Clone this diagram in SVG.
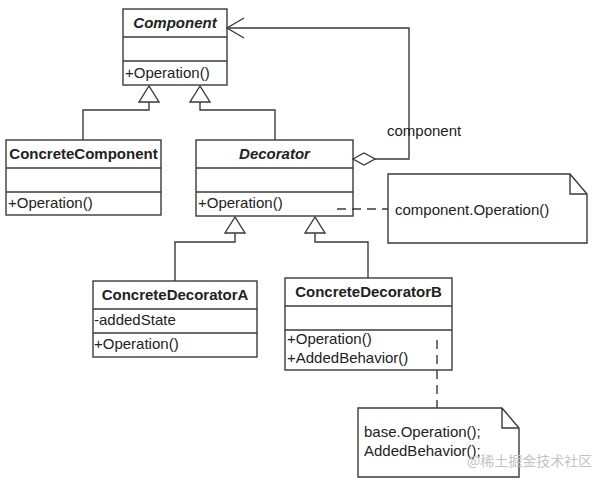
<svg xmlns="http://www.w3.org/2000/svg" width="592" height="482" viewBox="0 0 592 482">
<style>
.box{fill:#fff;stroke:#3a3a3a;stroke-width:1.4}
.ln{fill:none;stroke:#3a3a3a;stroke-width:1.4}
.dash{fill:none;stroke:#3a3a3a;stroke-width:1.4;stroke-dasharray:9 6}
.tri{fill:#fff;stroke:#3a3a3a;stroke-width:1.4}
text{font-family:"Liberation Sans",Arial,sans-serif;font-size:15px;fill:#222}
.t{font-weight:bold}
.ti{font-weight:bold;font-style:italic}
.wm{font-family:"Noto Sans CJK SC","Liberation Sans",sans-serif;font-size:14px;fill:#c4c4c4}
</style>
<rect width="592" height="482" fill="#fff"/>
<g id="Component">
  <rect class="box" x="123" y="9" width="104" height="76"/>
  <line class="ln" x1="123" y1="37" x2="227" y2="37"/>
  <line class="ln" x1="123" y1="61" x2="227" y2="61"/>
  <text class="ti" x="175" y="28" text-anchor="middle">Component</text>
  <text x="125" y="78">+Operation()</text>
</g>
<g id="ConcreteComponent">
  <rect class="box" x="6" y="140" width="155" height="75"/>
  <line class="ln" x1="6" y1="168" x2="161" y2="168"/>
  <line class="ln" x1="6" y1="192" x2="161" y2="192"/>
  <text class="t" x="83.5" y="159" text-anchor="middle">ConcreteComponent</text>
  <text x="8" y="208">+Operation()</text>
</g>
<g id="Decorator">
  <rect class="box" x="196" y="140" width="157" height="76"/>
  <line class="ln" x1="196" y1="168" x2="353" y2="168"/>
  <line class="ln" x1="196" y1="192" x2="353" y2="192"/>
  <text class="ti" x="274.5" y="159" text-anchor="middle">Decorator</text>
  <text x="198" y="208">+Operation()</text>
</g>
<g id="Note1">
  <polygon class="box" points="388,174 570,174 587,194 587,243 388,243"/>
  <polyline class="ln" points="570,174 570,194 587,194"/>
  <text x="395" y="215">component.Operation()</text>
</g>
<g id="ConcreteDecoratorA">
  <rect class="box" x="93" y="281" width="164" height="76"/>
  <line class="ln" x1="93" y1="309" x2="257" y2="309"/>
  <line class="ln" x1="93" y1="333" x2="257" y2="333"/>
  <text class="t" x="175" y="300" text-anchor="middle">ConcreteDecoratorA</text>
  <text x="94" y="325">-addedState</text>
  <text x="94" y="349">+Operation()</text>
</g>
<g id="ConcreteDecoratorB">
  <rect class="box" x="285" y="278" width="167" height="92"/>
  <line class="ln" x1="285" y1="306" x2="452" y2="306"/>
  <line class="ln" x1="285" y1="330" x2="452" y2="330"/>
  <text class="t" x="368.5" y="297" text-anchor="middle">ConcreteDecoratorB</text>
  <text x="287" y="344">+Operation()</text>
  <text x="287" y="363">+AddedBehavior()</text>
</g>
<g id="Note2">
  <polygon class="box" points="358,408 502,408 519,428 519,477 358,477"/>
  <polyline class="ln" points="502,408 502,428 519,428"/>
  <text x="364" y="437">base.Operation();</text>
  <text x="364" y="456">AddedBehavior();</text>
</g>
<g id="connectors">
  <polyline class="ln" points="149,102 149,110 83,110 83,140"/>
  <polyline class="ln" points="200,102 200,110 275,110 275,140"/>
  <polygon class="tri" points="149,86 139,102 159,102"/>
  <polygon class="tri" points="200,86 190,102 210,102"/>
  <polyline class="ln" points="235,233 235,242 175,242 175,281"/>
  <polyline class="ln" points="315,233 315,242 368,242 368,278"/>
  <polygon class="tri" points="235,217 225,233 245,233"/>
  <polygon class="tri" points="315,217 305,233 325,233"/>
  <polyline class="ln" points="375,159 409,159 409,28 227,28"/>
  <polyline class="ln" points="244,18 227,28 244,38"/>
  <polygon class="box" points="353,159 364,153 375,159 364,165"/>
  <line class="dash" x1="337" y1="209" x2="388" y2="209" stroke-dasharray="3 6 9 6"/>
  <line class="dash" x1="437" y1="340" x2="437" y2="408"/>
  <text x="387" y="136">component</text>
</g>
<text class="wm" x="467" y="466">@稀土掘金技术社区</text>
</svg>
